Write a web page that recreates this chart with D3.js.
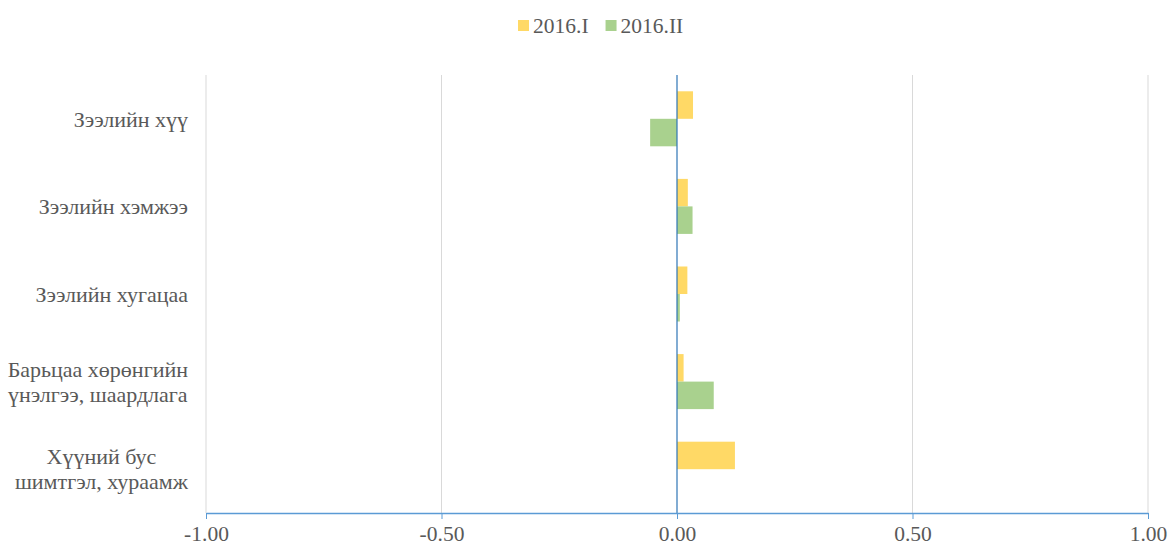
<!doctype html>
<html>
<head>
<meta charset="utf-8">
<script src="https://d3js.org/d3.v7.min.js"></script>
<style>
  body { margin: 0; background: #fff; }
  svg text { font-family: "Liberation Serif", Tinos, "Times New Roman", "DejaVu Serif", serif; fill: #595959; }
</style>
</head>
<body>
<script>
// categories, top to bottom (each label split into lines)
var categories = [
  ["Зээлийн хүү"],
  ["Зээлийн хэмжээ"],
  ["Зээлийн хугацаа"],
  ["Барьцаа хөрөнгийн", "үнэлгээ, шаардлага"],
  ["Хүүний бус", "шимтгэл, хураамж"]
];
var seriesNames = ["2016.I", "2016.II"];
var values2016I  = [0.034, 0.023, 0.022, 0.014, 0.123];
var values2016II = [-0.057, 0.033, 0.006, 0.078, 0.0];
var xTicks = [-1, -0.5, 0, 0.5, 1];
var colors = ["#FFD966", "#A9D18E"];

var width = 1168, height = 547;
var margin = {top: 75, left: 206};
var plotRight = 1148, plotBottom = 513;

var svg = d3.select("body").append("svg")
  .attr("width", width)
  .attr("height", height);

var x = d3.scaleLinear().domain([-1, 1]).range([margin.left, plotRight]);
var y = d3.scaleBand().domain(d3.range(categories.length))
  .range([margin.top, plotBottom])
  .paddingInner(0.372).paddingOuter(0.186);
var ySub = d3.scaleBand().domain([0, 1]).range([0, y.bandwidth()]);

// gridlines
svg.append("g").selectAll("line")
  .data(xTicks.filter(d => d !== 0))
  .join("line")
  .attr("x1", d => x(d)).attr("x2", d => x(d))
  .attr("y1", margin.top).attr("y2", plotBottom)
  .attr("stroke", "#d9d9d9").attr("stroke-width", 1);

// bars
var series = [values2016I, values2016II];
series.forEach(function(vals, si) {
  svg.append("g").selectAll("rect")
    .data(vals)
    .join("rect")
    .attr("x", d => x(Math.min(0, d)))
    .attr("width", d => Math.abs(x(d) - x(0)))
    .attr("y", (d, i) => y(i) + ySub(si))
    .attr("height", ySub.bandwidth())
    .attr("fill", colors[si]);
});

// vertical zero axis
svg.append("line")
  .attr("x1", x(0)).attr("x2", x(0))
  .attr("y1", margin.top).attr("y2", plotBottom)
  .attr("stroke", "#2E75B6").attr("stroke-width", 1.2);

// x axis
var xAxis = svg.append("g")
  .attr("transform", "translate(0," + plotBottom + ")")
  .call(d3.axisBottom(x).tickValues(xTicks).tickSize(6).tickSizeOuter(0)
    .tickFormat(d3.format(".2f")));
xAxis.attr("font-family", null);
xAxis.select(".domain").attr("stroke", "#5B9BD5").attr("stroke-width", 1.5);
xAxis.selectAll(".tick line").attr("stroke", "#5B9BD5");
xAxis.selectAll(".tick text")
  .attr("font-size", 21.5).attr("dy", "0.9em")
  .attr("fill", "#595959")
  .text(d => d3.format(".2f")(d).replace("−", "-"));

// category labels
var labelRight = 188, lineH = 25;
categories.forEach(function(lines, i) {
  var cy = y(i) + y.bandwidth() / 2;
  var t = svg.append("text")
    .attr("font-size", 22)
    .attr("text-anchor", "middle");
  lines.forEach(function(line, li) {
    t.append("tspan")
      .attr("y", cy + (li - (lines.length - 1) / 2) * lineH)
      .attr("dy", "0.35em")
      .text(line);
  });
  var maxW = d3.max(t.selectAll("tspan").nodes(), n => n.getComputedTextLength());
  t.selectAll("tspan").attr("x", labelRight - maxW / 2);
});

// legend
var legend = svg.append("g");
var lx = 518;
seriesNames.forEach(function(name, i) {
  var g = legend.append("g").attr("transform", "translate(" + lx + ",0)");
  g.append("rect").attr("x", 0).attr("y", 20).attr("width", 11).attr("height", 11)
    .attr("fill", colors[i]);
  var tx = g.append("text").attr("x", 15).attr("y", 33).attr("font-size", 21.5).text(name);
  lx += 15 + tx.node().getComputedTextLength() + 17;
});
</script>
</body>
</html>
